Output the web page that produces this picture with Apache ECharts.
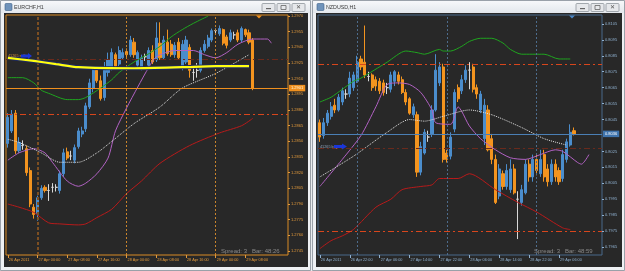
<!DOCTYPE html>
<html><head><meta charset="utf-8">
<script src="https://cdn.jsdelivr.net/npm/echarts@6/dist/echarts.min.js"></script>
<style>html,body{margin:0;padding:0;background:#e9ecf0;}#c{width:625px;height:271px;}</style>
</head><body><div id="c"></div>
<script>
// ---------- EURCHF H1 ----------
const eurTitle = 'EURCHF,H1';
const eurXLabels = ['26 Apr 2011','27 Apr 00:00','27 Apr 08:00','27 Apr 16:00','28 Apr 00:00','28 Apr 08:00','28 Apr 16:00','29 Apr 00:00','29 Apr 08:00'];
const eurTicks = [1.2745,1.2760,1.2775,1.2790,1.2805,1.2820,1.2835,1.2850,1.2865,1.2880,1.2895,1.2910,1.2925,1.2940,1.2955,1.2970];
// [open, close, low, high]
const eurCandles = [
[1.2848,1.2873,1.2844,1.2877],[1.2860,1.2876,1.2858,1.2880],[1.2877,1.2841,1.2838,1.2880],[1.2841,1.2849,1.2839,1.2854],
[1.2846,1.2846,1.2842,1.2851],[1.2843,1.2820,1.2817,1.2846],[1.2822,1.2790,1.2787,1.2825],[1.2787,1.2780,1.2776,1.2790],
[1.2781,1.2796,1.2774,1.2798],[1.2796,1.2805,1.2794,1.2808],[1.2806,1.2803,1.2801,1.2808],[1.2803,1.2803,1.2793,1.2809],
[1.2806,1.2806,1.2801,1.2810],[1.2806,1.2806,1.2802,1.2809],[1.2803,1.2819,1.2800,1.2822],[1.2819,1.2839,1.2816,1.2843],
[1.2840,1.2834,1.2832,1.2844],[1.2836,1.2836,1.2832,1.2841],[1.2832,1.2844,1.2829,1.2847],[1.2845,1.2860,1.2843,1.2863],
[1.2857,1.2860,1.2854,1.2864],[1.2862,1.2884,1.2859,1.2887],[1.2883,1.2906,1.2881,1.2910],[1.2901,1.2918,1.2897,1.2922],
[1.2918,1.2908,1.2906,1.2920],[1.2908,1.2891,1.2889,1.2913],[1.2892,1.2918,1.2889,1.2926],[1.2916,1.2928,1.2912,1.2935],
[1.2921,1.2935,1.2918,1.2939],[1.2933,1.2922,1.2920,1.2935],[1.2924,1.2937,1.2922,1.2941],[1.2930,1.2935,1.2928,1.2939],
[1.2936,1.2933,1.2930,1.2939],[1.2933,1.2947,1.2931,1.2951],[1.2945,1.2933,1.2930,1.2949],[1.2923,1.2935,1.2920,1.2937],
[1.2920,1.2930,1.2918,1.2933],[1.2931,1.2931,1.2927,1.2934],[1.2923,1.2937,1.2921,1.2940],[1.2937,1.2926,1.2924,1.2942],
[1.2928,1.2949,1.2926,1.2964],[1.2944,1.2930,1.2928,1.2964],[1.2930,1.2947,1.2928,1.2951],[1.2945,1.2934,1.2932,1.2957],
[1.2943,1.2933,1.2931,1.2947],[1.2933,1.2942,1.2930,1.2945],[1.2945,1.2930,1.2928,1.2949],[1.2922,1.2943,1.2918,1.2947],
[1.2926,1.2947,1.2924,1.2951],[1.2940,1.2918,1.2911,1.2943],[1.2916,1.2916,1.2908,1.2922],[1.2918,1.2918,1.2911,1.2925],
[1.2918,1.2937,1.2916,1.2940],[1.2937,1.2943,1.2935,1.2947],[1.2941,1.2949,1.2939,1.2952],[1.2947,1.2956,1.2945,1.2958],
[1.2956,1.2956,1.2952,1.2958],[1.2953,1.2958,1.2951,1.2961],[1.2957,1.2944,1.2942,1.2958],[1.2950,1.2942,1.2939,1.2952],
[1.2947,1.2954,1.2945,1.2957],[1.2952,1.2952,1.2948,1.2955],[1.2954,1.2947,1.2945,1.2957],[1.2947,1.2958,1.2945,1.2960],
[1.2957,1.2952,1.2950,1.2958],[1.2954,1.2945,1.2943,1.2957],[1.2947,1.2901,1.2899,1.2949]
];
// indicator lines: [bar index, value]
const eurYellow = [[0,1.2930],[7,1.2927],[13,1.2924],[19,1.2921],[34,1.2920],[47,1.2921],[56,1.2922],[65,1.2922]];
const eurGreen = [[0,1.2911],[4,1.2911],[7,1.2906],[9,1.2899],[11,1.2896],[16,1.2890],[19,1.2890],[21,1.2892],[25,1.2901],[28,1.2909],[30,1.2916],[34,1.2926],[38,1.2934],[41,1.2941],[44,1.2950],[47,1.2957],[50,1.2963],[54,1.2970]];
const eurRed = [[0,1.2790],[3,1.2787],[7,1.2782],[11,1.2772],[14,1.2771],[19,1.2770],[21,1.2771],[24,1.2777],[28,1.2785],[32,1.2800],[36,1.2812],[41,1.2829],[49,1.2846],[57,1.2858],[63,1.2865],[66,1.2872]];
const eurViolet = [[0,1.2832],[3,1.2839],[7,1.2843],[10,1.2839],[12,1.2830],[16,1.2812],[19,1.2807],[21,1.2810],[24,1.2819],[27,1.2834],[29,1.2860],[32,1.2882],[35,1.2902],[38,1.2921],[40,1.2931],[45,1.2937],[50,1.2937],[53,1.2933],[56,1.2930],[59,1.2935],[62,1.2943],[66,1.2948],[70,1.2948],[71,1.2944]];
const eurWhite = [[0,1.2852],[3,1.2849],[9,1.2839],[14,1.2830],[19,1.2830],[24,1.2839],[28,1.2850],[34,1.2867],[41,1.2883],[47,1.2901],[56,1.2915],[65,1.2933]];
const eurLevels = {bid:1.2901, lineA:1.2876, lineB:1.2929};
const eurSeparators = [8, 32, 56];

// ---------- NZDUSD H1 ----------
const nzdTitle = 'NZDUSD,H1';
const nzdXLabels = ['26 Apr 2011','26 Apr 22:00','27 Apr 06:00','27 Apr 14:00','27 Apr 22:00','28 Apr 06:00','28 Apr 14:00','28 Apr 22:00','29 Apr 06:00'];
const nzdTicks = [0.7965,0.7975,0.7985,0.7995,0.8005,0.8015,0.8025,0.8045,0.8055,0.8065,0.8075,0.8085,0.8095,0.8105];
const nzdCandles = [
[0.8043,0.8034,0.8031,0.8045],[0.8035,0.8043,0.8033,0.8046],[0.8043,0.8049,0.8041,0.8051],[0.8047,0.8053,0.8045,0.8056],
[0.8054,0.8051,0.8049,0.8058],[0.8051,0.8059,0.8050,0.8061],[0.8056,0.8063,0.8054,0.8065],[0.8061,0.8061,0.8058,0.8064],
[0.8061,0.8071,0.8059,0.8075],[0.8065,0.8073,0.8063,0.8075],[0.8069,0.8081,0.8068,0.8085],[0.8083,0.8078,0.8076,0.8085],
[0.8081,0.8073,0.8071,0.8104],[0.8072,0.8072,0.8069,0.8075],[0.8073,0.8065,0.8063,0.8074],[0.8070,0.8066,0.8063,0.8072],
[0.8069,0.8063,0.8061,0.8071],[0.8068,0.8062,0.8060,0.8070],[0.8065,0.8065,0.8061,0.8068],[0.8064,0.8073,0.8062,0.8075],
[0.8069,0.8075,0.8066,0.8076],[0.8073,0.8069,0.8067,0.8075],[0.8070,0.8062,0.8061,0.8072],[0.8062,0.8056,0.8054,0.8064],
[0.8058,0.8049,0.8048,0.8059],[0.8048,0.8053,0.8046,0.8055],[0.8048,0.8012,0.8009,0.8050],[0.8012,0.8028,0.8010,0.8031],
[0.8024,0.8037,0.8023,0.8039],[0.8034,0.8034,0.8031,0.8038],[0.8036,0.8051,0.8034,0.8054],[0.8051,0.8076,0.8050,0.8086],
[0.8068,0.8078,0.8066,0.8081],[0.8078,0.8020,0.8018,0.8080],[0.8024,0.8020,0.8018,0.8026],[0.8022,0.8034,0.8020,0.8037],
[0.8039,0.8062,0.8037,0.8064],[0.8065,0.8058,0.8056,0.8067],[0.8063,0.8070,0.8061,0.8073],[0.8070,0.8076,0.8068,0.8079],
[0.8076,0.8076,0.8064,0.8081],[0.8078,0.8064,0.8062,0.8080],[0.8065,0.8061,0.8058,0.8067],[0.8051,0.8061,0.8049,0.8063],
[0.8033,0.8054,0.8029,0.8058],[0.8051,0.8026,0.8025,0.8054],[0.8033,0.8020,0.8017,0.8036],[0.8020,0.7993,0.7992,0.8023],
[0.7997,0.8014,0.7995,0.8017],[0.8011,0.8003,0.8001,0.8013],[0.8003,0.8013,0.8001,0.8017],[0.8001,0.8014,0.7999,0.8020],
[0.8014,0.7999,0.7998,0.8017],[0.7995,0.7995,0.7970,0.8000],[0.7993,0.8001,0.7991,0.8004],[0.7999,0.8017,0.7998,0.8020],
[0.8017,0.8009,0.8006,0.8020],[0.8009,0.8020,0.8006,0.8023],[0.8020,0.8013,0.8010,0.8023],[0.8011,0.8020,0.8009,0.8026],
[0.8023,0.8009,0.8006,0.8026],[0.8014,0.8006,0.8003,0.8017],[0.8006,0.8017,0.8004,0.8020],[0.8017,0.8009,0.8006,0.8020],
[0.8013,0.8006,0.8004,0.8015],[0.8008,0.8023,0.8006,0.8026],[0.8020,0.8031,0.8018,0.8033],[0.8029,0.8037,0.8028,0.8042],
[0.8038,0.8036,0.8035,0.8040]
];
const nzdGreen = [[0,0.8056],[3,0.8059],[6,0.8064],[9,0.8069],[11,0.8071],[18,0.8081],[23,0.8088],[26,0.8087],[28,0.8086],[32,0.8089],[33,0.8088],[35,0.8088],[38,0.8091],[40,0.8094],[43,0.8096],[46,0.8096],[49,0.8093],[51,0.8089],[54,0.8086],[60,0.8086],[64,0.8083],[67,0.8083]];
const nzdRed = [[0,0.7964],[3,0.7969],[6,0.7972],[9,0.7976],[15,0.7990],[19,0.7995],[22,0.8001],[27,0.8003],[30,0.8004],[32,0.8008],[37,0.8008],[40,0.8011],[47,0.8001],[53,0.7993],[58,0.7987],[65,0.7977],[67,0.7976]];
const nzdViolet = [[0,0.8003],[6,0.8020],[11,0.8035],[15,0.8053],[18,0.8067],[21,0.8068],[24,0.8067],[27,0.8062],[30,0.8051],[31,0.8043],[35,0.8042],[37,0.8053],[38,0.8050],[40,0.8041],[43,0.8033],[47,0.8026],[51,0.8021],[55,0.8020],[59,0.8023],[63,0.8026],[65,0.8025],[69,0.8018],[70,0.8017],[72,0.8023]];
const nzdWhite = [[0,0.8009],[9,0.8022],[18,0.8037],[24,0.8045],[28,0.8044],[33,0.8047],[40,0.8051],[46,0.8048],[54,0.8040],[60,0.8033],[66,0.8029]];
const nzdLevels = {bid:0.8036, lineA:0.8080, lineB:0.7975, lineC:0.8027};
const nzdSeparators = [10, 34, 58];

// ---------- build ----------
function hourCats(startMs, n){const a=[];for(let i=0;i<n;i++){const d=new Date(startMs+i*3600000);a.push(d.toISOString().slice(5,13));}return a;}
const eurCats = hourCats(Date.UTC(2011,3,26,16), 76);
const nzdCats = hourCats(Date.UTC(2011,3,26,14), 76);

const FONT = 'Liberation Sans';
const ORANGE = '#f3941f', BLUE = '#4b8dcc', DOJI = '#d8d8d8';
const DASHDOT = [6,3,2,3];

function line(gi, data, color, width, type, z, marks){
  const s = {type:'line', xAxisIndex:gi, yAxisIndex:gi, data, symbol:'none', smooth:0.25, silent:true,
    lineStyle:{color, width, type:type||'solid'}, z:z||4, animation:false};
  if (marks) s.markLine = {symbol:['none','none'], silent:true, animation:false, precision:4, label:{show:false}, data:marks};
  return s;
}
function xAxis(gi, cats, labels, color){
  const show = i => i % 8 === 0 && i/8 < labels.length;
  return {type:'category', gridIndex:gi, data:cats, boundaryGap:true,
    axisLine:{show:false},
    axisTick:{show:true, interval:(i)=>show(i), alignWithLabel:true, length:3, lineStyle:{color, width:1}},
    axisLabel:{interval:(i)=>show(i), formatter:(v,i)=>labels[i/8], align:'left', fontSize:3.8, fontFamily:FONT, color, margin:3, padding:[0,0,0,1]},
    splitLine:{show:false}};
}
function yAxis(gi, ticks, min, max, color){
  return {type:'value', gridIndex:gi, position:'right', min, max, scale:true,
    axisLine:{show:false}, splitLine:{show:false},
    axisTick:{show:true, customValues:ticks, length:2, lineStyle:{color}},
    axisLabel:{customValues:ticks, formatter:v=>v.toFixed(4), fontSize:4, fontFamily:FONT, color, margin:3}};
}
function candles(gi, data){
  return {type:'candlestick', xAxisIndex:gi, yAxisIndex:gi, data, barWidth:2.6, silent:true, animation:false, z:3,
    itemStyle:{color:BLUE, color0:ORANGE, borderColor:BLUE, borderColor0:ORANGE, borderColorDoji:DOJI, borderWidth:1}};
}
function hline(v, color, type, width){return {yAxis:v, lineStyle:{color, type, width:width||1}, label:{show:false}};}
function vline(i, color, type, width){return {xAxis:i, lineStyle:{color, type, width:width||1}, label:{show:false}};}
function bidLine(v, color, boxColor, textColor){
  return {yAxis:v, lineStyle:{color, type:'solid', width:1},
    label:{show:true, position:'end', distance:1, formatter:v.toFixed(4), backgroundColor:boxColor, color:textColor, fontSize:4, fontFamily:FONT, padding:[1.5,2,1,2]}};
}

const eurMarks = [
  hline(eurLevels.lineB, '#6a2a1c', DASHDOT),
  hline(eurLevels.lineA, '#d8461c', DASHDOT),
  vline(eurSeparators[0], '#7d4f22', [3,2], 2),
  vline(eurSeparators[1], '#c9842c', [2,2]),
  vline(eurSeparators[2], '#c9842c', [2,2]),
  bidLine(eurLevels.bid, '#f0901e', '#f0901e', '#fff6df')
];
const nzdMarks = [
  hline(nzdLevels.lineC, '#6a2a1c', DASHDOT),
  hline(nzdLevels.lineA, '#d8461c', DASHDOT),
  hline(nzdLevels.lineB, '#d8461c', DASHDOT),
  vline(nzdSeparators[0], '#4d6c8c', [2,2]),
  vline(nzdSeparators[1], '#4d6c8c', [2,2]),
  vline(nzdSeparators[2], '#4d6c8c', [2,2]),
  bidLine(nzdLevels.bid, '#4a7fb5', '#3f74ad', '#ffffff')
];

const titleGrad = () => new echarts.graphic.LinearGradient(0,0,0,1,[{offset:0,color:'#f7f8fa'},{offset:1,color:'#e3e7ec'}]);
function btns(x0){
  const out=[];
  for(let k=0;k<3;k++){
    out.push({type:'rect', shape:{x:x0+k*15, y:3.5, width:13, height:8, r:1}, style:{fill:'#e6e8eb', stroke:'#8f959c', lineWidth:0.8}, z:50});
  }
  out.push({type:'rect', shape:{x:x0+4, y:8, width:5, height:1.2}, style:{fill:'#666'}, z:51});
  out.push({type:'rect', shape:{x:x0+15+4, y:5.5, width:5, height:4}, style:{fill:'none', stroke:'#666', lineWidth:0.8}, z:51});
  out.push({type:'text', x:x0+30+6.5, y:7.7, style:{text:'✕', fontSize:6, fill:'#555', align:'center', verticalAlign:'middle'}, z:51});
  return out;
}

const chart = echarts.init(document.getElementById('c'), null, {renderer:'canvas'});
chart.setOption({
  animation:false,
  backgroundColor:'#e9ecf0',
  grid:[
    {left:6, top:15, width:282, height:240, show:true, borderColor:'#d88a24', borderWidth:1, backgroundColor:'transparent'},
    {left:318, top:15, width:284, height:240, show:true, borderColor:'#48698a', borderWidth:1, backgroundColor:'transparent'}
  ],
  xAxis:[ xAxis(0, eurCats, eurXLabels, '#e39a3c'), xAxis(1, nzdCats, nzdXLabels, '#8fb0cf') ],
  yAxis:[ yAxis(0, eurTicks, 1.27412, 1.29710, '#e39a3c'), yAxis(1, nzdTicks, 0.79600, 0.81106, '#8fb0cf') ],
  series:[
    candles(0, eurCandles),
    line(0, eurRed, '#b81a1a', 1, 'solid', 4, eurMarks),
    line(0, eurGreen, '#1fa51f', 1),
    line(0, eurViolet, '#b262c4', 1),
    line(0, eurWhite, '#e2e2e2', 1, 'dotted'),
    line(0, eurYellow, '#1c2a66', 4, 'solid', 5),
    line(0, eurYellow, '#ffff10', 2.2, 'solid', 6),
    candles(1, nzdCandles),
    line(1, nzdRed, '#b81a1a', 1, 'solid', 4, nzdMarks),
    line(1, nzdGreen, '#1fa51f', 1),
    line(1, nzdViolet, '#b262c4', 1),
    line(1, nzdWhite, '#e2e2e2', 1, 'dotted')
  ],
  graphic:[
    {type:'rect', shape:{x:0.5, y:0.5, width:310, height:270}, style:{fill:'#eef0f3', stroke:'#9aa1a9'}, z:-30, silent:true},
    {type:'rect', shape:{x:312.5, y:0.5, width:312, height:270}, style:{fill:'#eef0f3', stroke:'#9aa1a9'}, z:-30, silent:true},
    {type:'rect', shape:{x:1, y:1, width:309, height:12}, style:{fill:titleGrad()}, z:-29, silent:true},
    {type:'rect', shape:{x:313, y:1, width:311, height:12}, style:{fill:titleGrad()}, z:-29, silent:true},
    {type:'rect', shape:{x:4, y:13, width:304, height:254}, style:{fill:'#282828'}, z:-28, silent:true},
    {type:'rect', shape:{x:316, y:13, width:306, height:254}, style:{fill:'#282828'}, z:-28, silent:true},
    {type:'rect', shape:{x:5, y:3.5, width:7, height:7, r:1}, style:{fill:'#6f93bb', stroke:'#3d5f86', lineWidth:0.6}, z:50},
    {type:'rect', shape:{x:317, y:3.5, width:7, height:7, r:1}, style:{fill:'#6f93bb', stroke:'#3d5f86', lineWidth:0.6}, z:50},
    {type:'text', x:14, y:7.5, style:{text:eurTitle, fontSize:5.3, fontFamily:FONT, fill:'#3a3a3a', verticalAlign:'middle'}, z:50},
    {type:'text', x:326, y:7.5, style:{text:nzdTitle, fontSize:5.3, fontFamily:FONT, fill:'#3a3a3a', verticalAlign:'middle'}, z:50},
    ...btns(262), ...btns(576),
    {type:'text', x:221, y:251, style:{text:'Spread: 3   Bar: 48:26', fontSize:6, fontFamily:FONT, fill:'#8a8a8a', verticalAlign:'middle'}, z:50},
    {type:'text', x:534, y:251, style:{text:'Spread: 3   Bar: 48:59', fontSize:6, fontFamily:FONT, fill:'#8a8a8a', verticalAlign:'middle'}, z:50},
    {type:'text', x:8, y:55.5, style:{text:'41265 sell', fontSize:3.8, fontFamily:FONT, fill:'#d9903a', verticalAlign:'middle'}, z:50},
    {type:'polygon', shape:{points:[[21,54.5],[28,54.5],[28,53],[32,56],[28,59],[28,57.5],[21,57.5]]}, style:{fill:'#1a36d8'}, z:50},
    {type:'text', x:320, y:147, style:{text:'41265 buy', fontSize:3.8, fontFamily:FONT, fill:'#8ea3bb', verticalAlign:'middle'}, z:50},
    {type:'polygon', shape:{points:[[334,145],[342,145],[342,143.5],[347,146.5],[342,149.5],[342,148],[334,148]]}, style:{fill:'#1a36d8'}, z:50},
    {type:'polygon', shape:{points:[[256,15.5],[262,15.5],[259,18.5]]}, style:{fill:'#f0901e'}, z:50},
    {type:'polygon', shape:{points:[[569,15.5],[575,15.5],[572,18.5]]}, style:{fill:'#4a86c5'}, z:50}
  ]
});
</script>
</body></html>
